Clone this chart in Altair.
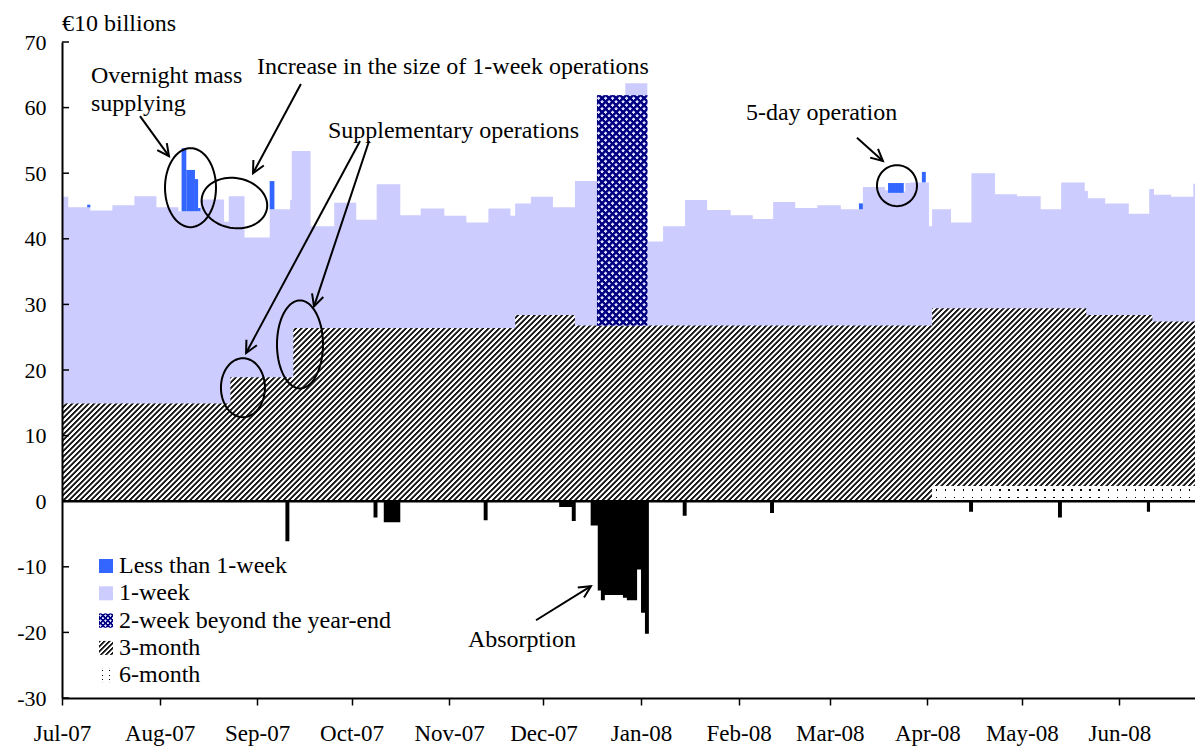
import altair as alt
import numpy as np
import pandas as pd

FONT = "Liberation Serif"
LAVENDER = "#ccccff"
BLUE = "#3366ff"
NAVY = "#000080"
TXT = 24

# ---------------- data (units: EUR 10 billions) ----------------
X_START = "2007-07-01"
X_END = "2008-06-27T14:00"

# top level of the 1-week layer (stacked above the longer operations), step starts
week_start = ["2007-07-01", "2007-07-03", "2007-07-10", "2007-07-17", "2007-07-24",
              "2007-07-31", "2007-08-07", "2007-08-14", "2007-08-21T12:00", "2007-08-23",
              "2007-08-28", "2007-09-05", "2007-09-11T12:00", "2007-09-12", "2007-09-18",
              "2007-09-25T12:00", "2007-10-02T12:00", "2007-10-09", "2007-10-16T12:00", "2007-10-23",
              "2007-10-30T12:00", "2007-11-06T12:00", "2007-11-13T12:00", "2007-11-20T12:00", "2007-11-22",
              "2007-11-27", "2007-12-04", "2007-12-11", "2007-12-18", "2007-12-27",
              "2008-01-03", "2008-01-08", "2008-01-15", "2008-01-22", "2008-01-29T12:00",
              "2008-02-05T12:00", "2008-02-12", "2008-02-19", "2008-02-26", "2008-03-04T12:00",
              "2008-03-11T12:00", "2008-03-18T12:00", "2008-03-19T12:00", "2008-03-24T12:00", "2008-03-25",
              "2008-03-26T12:00", "2008-04-01T12:00", "2008-04-02T12:00", "2008-04-08T12:00", "2008-04-15",
              "2008-04-22T12:00", "2008-04-29T12:00", "2008-05-07", "2008-05-13T12:00", "2008-05-21",
              "2008-05-22", "2008-05-27T12:00", "2008-06-04", "2008-06-10T12:00", "2008-06-12",
              "2008-06-17T12:00", "2008-06-24T12:00"]
week_top = [46.4, 44.8, 44.3, 45.1, 46.5,
            44.8, 44.2, 46.0, 42.6, 46.5,
            40.2, 44.5, 45.9, 53.4, 41.9,
            45.5, 42.9, 48.3, 43.6, 44.6,
            43.5, 42.5, 44.6, 43.5, 45.4,
            46.4, 44.8, 48.8, 61.9, 63.7,
            39.6, 41.9, 45.9, 44.4, 43.6,
            43.0, 45.6, 44.7, 45.1, 44.5,
            47.9, 47.4, 47.0, 47.2, 48.5,
            48.6, 41.9, 44.5, 42.5, 50.0,
            46.8, 46.5, 44.5, 48.6, 47.3,
            46.2, 45.4, 43.8, 47.6, 46.7,
            46.4, 48.4]

# less-than-1-week operations
short_start = ["2007-07-09", "2007-08-08", "2007-08-09T12:00", "2007-08-12T06:00",
               "2007-08-13T06:00", "2007-09-05", "2008-03-10T06:00", "2008-03-19T12:00",
               "2008-03-30T06:00"]
short_end = ["2007-07-10", "2007-08-09T12:00", "2007-08-12T06:00", "2007-08-13T06:00",
             "2007-08-14", "2007-09-06T12:00", "2008-03-11T12:00", "2008-03-24T12:00",
             "2008-03-31T12:00"]
short_amount = [0.4, 9.6, 6.3, 4.9, 0.5, 4.3, 0.9, 1.5, 1.6]

# 2-week operation beyond the year-end
ye_start = "2007-12-18"
ye_end = "2008-01-03"
ye_amount = 35.1

# 3-month operations outstanding
m3_start = ["2007-07-01", "2007-08-23T12:00", "2007-09-12T12:00", "2007-11-22",
            "2007-12-11", "2008-04-02T12:00", "2008-05-21T12:00", "2008-06-11T12:00"]
m3_amount = [14.9, 18.9, 26.4, 28.4, 26.8, 27.1, 26.1, 25.1]

# 6-month operations outstanding
m6_start = ["2007-07-01", "2008-04-02T12:00"]
m6_amount = [0.0, 2.3]

# absorbing operations
abs_start = ["2007-09-10", "2007-10-08", "2007-10-11T06:00", "2007-11-12", "2007-12-06",
             "2007-12-10", "2007-12-16", "2007-12-18T06:00", "2007-12-19T06:00",
             "2007-12-20T12:00", "2007-12-26T06:00", "2007-12-27T12:00", "2007-12-30T18:00",
             "2008-01-01", "2008-01-02T06:00", "2008-01-14T06:00", "2008-02-11",
             "2008-04-14T06:00", "2008-05-12T12:00", "2008-06-09T18:00"]
abs_end = ["2007-09-11T06:00", "2007-10-09T06:00", "2007-10-16T12:00", "2007-11-13T06:00",
           "2007-12-10", "2007-12-11T06:00", "2007-12-18T06:00", "2007-12-19T06:00",
           "2007-12-20T12:00", "2007-12-26T06:00", "2007-12-27T12:00", "2007-12-30T18:00",
           "2008-01-01", "2008-01-02T06:00", "2008-01-03T12:00", "2008-01-15T12:00",
           "2008-02-12T06:00", "2008-04-15T12:00", "2008-05-13T18:00", "2008-06-10T18:00"]
abs_amount = [-6.1, -2.5, -3.2, -2.9, -0.9, -3.0, -3.7, -13.6, -15.1, -14.3, -14.7, -15.1,
              -10.4, -17.0, -20.2, -2.2, -1.8, -1.6, -2.5, -1.6]

# annotations
ell_t = ["2007-08-10T20:00", "2007-08-24T19:00", "2007-08-27T12:00", "2007-09-14T15:00", "2008-03-22T08:00"]
ell_v = [47.8, 45.45, 17.3, 23.9, 48.1]
ell_rx = [25.5, 33, 22, 23, 20]
ell_ry = [39.5, 25, 29.5, 44, 20.5]
ell_angle = [0, 10, 0, 0, 0]

arr_t0 = ["2007-07-25T19:00", "2007-09-14T22:00", "2007-10-03T17:00", "2007-10-06T14:00",
          "2008-03-09T15:00", "2007-11-28T15:00"]
arr_v0 = [58.7, 63.6, 54.9, 54.9, 55.4, -18.15]
arr_t1 = ["2007-08-04T00:00", "2007-08-30T17:00", "2007-08-28T12:00", "2007-09-19T02:00",
          "2008-03-17T21:00", "2007-12-16T02:00"]
arr_v1 = [52.6, 50.0, 22.6, 29.7, 51.85, -12.96]
arr_angle = [144, 208, 208, 198, 131.5, 58]

note_text = ["€10 billions", "Overnight mass", "supplying",
             "Increase in the size of 1-week operations", "Supplementary operations",
             "5-day operation", "Absorption"]
note_t = ["2007-07-01", "2007-07-10T05:00", "2007-07-10T05:00", "2007-09-01",
          "2007-09-23T12:00", "2008-02-03T08:00", "2007-11-07"]
note_v = [72.75, 64.8, 60.5, 66.2, 56.4, 59.2, -21.2]

legend_labels = ["Less than 1-week", "1-week", "2-week beyond the year-end", "3-month", "6-month"]

y_ticks = list(range(-30, 71, 10))
tick_months = [(2007, m) for m in range(7, 13)] + [(2008, m) for m in range(1, 7)]


# ---------------- helpers ----------------
def ts(x):
    return pd.to_datetime(x, format="ISO8601")


def step_value(starts, values, t):
    s = ts(pd.Series(starts))
    idx = int((s <= t).sum()) - 1
    return values[idx] if idx >= 0 else 0.0


W, H = 1141, 656
Y_MIN, Y_MAX = -30, 70
t_start, t_end = ts(X_START), ts(X_END)
ppd = W / ((t_end - t_start).total_seconds() / 86400)
ppu = H / (Y_MAX - Y_MIN)


def diag_stripes(bw, bh, period, c_on, c_off, diag="/", on=0.35, ramp=0.15):
    b = bh / bw
    k = (1 + b) / (1 + b * b)
    n = (bw + bh) / period
    stops = []
    i = 0
    while i / n <= 1:
        p0 = i / n
        for f, c in ((0, c_on), (on, c_on), (on + ramp, c_off), (1 - ramp, c_off)):
            off = p0 + f / n
            if off <= 1:
                stops.append({"offset": round(off, 6), "color": c})
        i += 1
    if diag == "/":
        x1, y1, x2, y2 = 0, 0, k, k * b
    else:
        x1, y1, x2, y2 = 0, 1, k, 1 - k * b
    return {"gradient": "linear", "x1": x1, "y1": y1, "x2": round(x2, 6), "y2": round(y2, 6),
            "stops": stops}


def line_stripes(n, c_bg, c_line, width, vertical_lines=True):
    stops = []
    for i in range(int(n)):
        p0 = i / n
        a = round(p0 + (0.5 - width / 2) / n, 6)
        b = round(p0 + (0.5 + width / 2) / n, 6)
        stops += [{"offset": round(p0, 6), "color": c_bg}, {"offset": a, "color": c_bg},
                  {"offset": a, "color": c_line}, {"offset": b, "color": c_line},
                  {"offset": b, "color": c_bg}]
    stops.append({"offset": 1, "color": c_bg})
    if vertical_lines:
        x1, y1, x2, y2 = 0, 0, 1, 0
    else:
        x1, y1, x2, y2 = 0, 0, 0, 1
    return {"gradient": "linear", "x1": x1, "y1": y1, "x2": x2, "y2": y2, "stops": stops}


def ellipse_path(rx, ry, n=72):
    s = max(rx, ry)
    pts = []
    for a in np.linspace(0, 2 * np.pi, n, endpoint=False):
        pts.append(f"{rx / s * np.cos(a):.4f},{ry / s * np.sin(a):.4f}")
    return "M" + " L".join(pts) + " Z"


# ---------------- frames ----------------
wk = pd.DataFrame({"t": ts(week_start + [X_END]), "top": week_top + [week_top[-1]]})
wk["zero"] = 0.0

bps = sorted(set(ts(m3_start)) | set(ts(m6_start)))
rows = []
for t in bps:
    base = step_value(m6_start, m6_amount, t)
    rows.append({"t": t, "base": base, "top": base + step_value(m3_start, m3_amount, t)})
rows.append({"t": t_end, "base": rows[-1]["base"], "top": rows[-1]["top"]})
hatch = pd.DataFrame(rows)

short = pd.DataFrame({"t0": ts(short_start), "t1": ts(short_end), "amt": short_amount})
short["y0"] = [step_value(week_start, week_top, t) for t in short["t0"]]
short["y1"] = short["y0"] + short["amt"]

ye_t0, ye_t1 = ts(ye_start), ts(ye_end)
ye_base = step_value(m3_start, m3_amount, ye_t0) + step_value(m6_start, m6_amount, ye_t0)
ye = pd.DataFrame({"t0": [ye_t0], "t1": [ye_t1], "y0": [ye_base], "y1": [ye_base + ye_amount]})

pts = [(t_start, 0.0)]
for s, e, v in zip(ts(abs_start), ts(abs_end), abs_amount):
    if pts[-1][0] == s:
        pts[-1] = (s, v)
    else:
        pts.append((s, v))
    pts.append((e, 0.0))
pts.append((t_end, 0.0))
absd = pd.DataFrame(pts, columns=["t", "v"])
absd["zero"] = 0.0

m6_t0 = ts(m6_start[1])
six = pd.DataFrame({"t0": [m6_t0], "t1": [t_end], "y0": [0.0], "y1": [m6_amount[1]]})

ell = pd.DataFrame({"t": ts(ell_t), "v": ell_v,
                    "path": [ellipse_path(a, b) for a, b in zip(ell_rx, ell_ry)],
                    "size": [(2 * max(a, b)) ** 2 for a, b in zip(ell_rx, ell_ry)],
                    "ang": ell_angle})
arr = pd.DataFrame({"t0": ts(arr_t0), "v0": arr_v0, "t1": ts(arr_t1), "v1": arr_v1, "ang": arr_angle})
notes = pd.DataFrame({"t": ts(note_t), "v": note_v, "label": note_text})
zero_df = pd.DataFrame({"v": [0.0]})
ticks_df = pd.DataFrame({"v": y_ticks})
dummy = pd.DataFrame({"d": [0]})

# ---------------- fills ----------------
hatch_fill = diag_stripes(W, hatch["top"].max() * ppu, 5.5, "#1a1a1a", "#ffffff", "/")
ye_w = (ye_t1 - ye_t0).total_seconds() / 86400 * ppd
ye_h = ye_amount * ppu
ye_s1 = diag_stripes(ye_w, ye_h, 7, NAVY, "rgba(0,0,128,0)", "/", on=0.36, ramp=0.12)
ye_s2 = diag_stripes(ye_w, ye_h, 7, NAVY, "rgba(0,0,128,0)", "\\", on=0.36, ramp=0.12)
six_w = (t_end - m6_t0).total_seconds() / 86400 * ppd
six_a = line_stripes(round(six_w / 9), "#ffffff", "#000000", 0.15, True)
six_b = line_stripes(2, "#ffffff", "rgba(255,255,255,0)", 0.18, False)

leg_hatch = diag_stripes(14, 14, 5, "#1a1a1a", "#ffffff", "/")
leg_ye1 = diag_stripes(14, 14, 5, NAVY, "rgba(0,0,128,0)", "/", on=0.38, ramp=0.12)
leg_ye2 = diag_stripes(14, 14, 5, NAVY, "rgba(0,0,128,0)", "\\", on=0.38, ramp=0.12)
leg_six_a = line_stripes(2, "#ffffff", "#000000", 0.15, True)
leg_six_b = line_stripes(3, "#ffffff", "rgba(255,255,255,0)", 0.22, False)

# ---------------- scales / axes ----------------
xscale = alt.Scale(domain=[alt.DateTime(year=2007, month=7, date=1),
                           alt.DateTime(year=2008, month=6, date=27, hours=14)], nice=False)
yscale = alt.Scale(domain=[Y_MIN, Y_MAX], nice=False, zero=False)
xaxis = alt.Axis(values=[alt.DateTime(year=y, month=m, date=1) for y, m in tick_months],
                 format="%b-%y", title=None, grid=False, tickSize=7, tickWidth=1.5,
                 tickColor="black", domainColor="black", domainWidth=2, labelPadding=17,
                 labelFlush=False, labelOverlap=False, labelFont=FONT, labelFontSize=23,
                 labelColor="black", zindex=1)
yaxis = alt.Axis(values=y_ticks, title=None, grid=False, ticks=False, domainColor="black",
                 domainWidth=2, labelPadding=16, labelFont=FONT, labelFontSize=22,
                 labelColor="black", labelExpr="'' + datum.value", zindex=1)


def X(f):
    return alt.X(f, type="temporal", scale=xscale, axis=xaxis, title=None)


def Y(f):
    return alt.Y(f, type="quantitative", scale=yscale, axis=yaxis, title=None)


layers = []
layers.append(alt.Chart(wk).mark_area(interpolate="step-after", fill=LAVENDER, opacity=1)
              .encode(x=X("t"), y=Y("top"), y2=alt.Y2("zero")))
layers.append(alt.Chart(short).mark_rect(fill=BLUE, opacity=1)
              .encode(x=X("t0"), x2=alt.X2("t1"), y=Y("y0"), y2=alt.Y2("y1")))
layers.append(alt.Chart(hatch).mark_area(interpolate="step-after", fill=hatch_fill, opacity=1)
              .encode(x=X("t"), y=Y("top"), y2=alt.Y2("base")))
for f in (six_a, six_b):
    layers.append(alt.Chart(six).mark_rect(fill=f, opacity=1)
                  .encode(x=X("t0"), x2=alt.X2("t1"), y=Y("y0"), y2=alt.Y2("y1")))
for f in ("#dcdcff", ye_s1, ye_s2):
    layers.append(alt.Chart(ye).mark_rect(fill=f, opacity=1)
                  .encode(x=X("t0"), x2=alt.X2("t1"), y=Y("y0"), y2=alt.Y2("y1")))
layers.append(alt.Chart(absd).mark_area(interpolate="step-after", fill="black", opacity=1)
              .encode(x=X("t"), y=Y("v"), y2=alt.Y2("zero")))
layers.append(alt.Chart(zero_df).mark_rule(color="black", strokeWidth=2.5).encode(y=Y("v")))
layers.append(alt.Chart(ticks_df).mark_rule(color="black", strokeWidth=1.5)
              .encode(y=Y("v"), x=alt.value(0), x2=alt.value(7)))
layers.append(alt.Chart(ell).mark_point(filled=False, color="black", strokeWidth=2, opacity=1)
              .encode(x=X("t"), y=Y("v"),
                      shape=alt.Shape("path:N", scale=None, legend=None),
                      size=alt.Size("size:Q", scale=None, legend=None),
                      angle=alt.Angle("ang:Q", scale=None)))
layers.append(alt.Chart(arr).mark_rule(color="black", strokeWidth=2)
              .encode(x=X("t0"), x2=alt.X2("t1"), y=Y("v0"), y2=alt.Y2("v1")))
layers.append(alt.Chart(arr).mark_point(shape="M-0.5,1L0,0L0.5,1", size=560, filled=False,
                                        color="black", strokeWidth=2, opacity=1)
              .encode(x=X("t1"), y=Y("v1"), angle=alt.Angle("ang:Q", scale=None)))
layers.append(alt.Chart(notes).mark_text(align="left", baseline="middle", font=FONT,
                                         fontSize=TXT, color="black")
              .encode(x=X("t"), y=Y("v"), text="label:N"))

# legend (drawn inside the plot, lower left)
leg_fills = [[BLUE], [LAVENDER], ["#dcdcff", leg_ye1, leg_ye2], [leg_hatch], [leg_six_a, leg_six_b]]
for i, (lab, fills) in enumerate(zip(legend_labels, leg_fills)):
    yc = 524 + 27.3 * i
    for f in fills:
        layers.append(alt.Chart(dummy).mark_rect(fill=f, opacity=1)
                      .encode(x=alt.value(37), x2=alt.value(51),
                              y=alt.value(yc - 7), y2=alt.value(yc + 7)))
    layers.append(alt.Chart(dummy).mark_text(align="left", baseline="middle", font=FONT,
                                             fontSize=TXT, color="black", text=lab)
                  .encode(x=alt.value(57), y=alt.value(yc)))

chart = alt.layer(*layers).properties(
    width=W, height=H,
    padding={"left": 54, "top": 34, "right": -8, "bottom": 48},
    autosize=alt.AutoSizeParams(type="none"),
).configure_view(stroke=None)

chart.save("out.html", embed_options={"renderer": "svg", "actions": False})
